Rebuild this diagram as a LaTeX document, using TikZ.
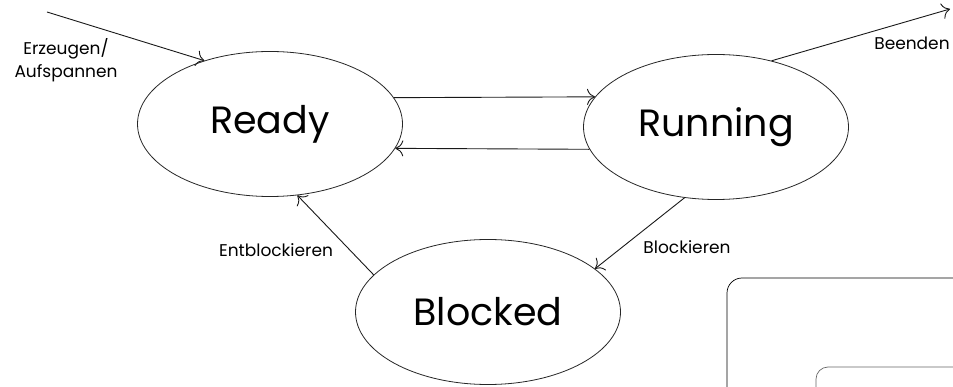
\documentclass[tikz,border=0pt]{standalone}
\usepackage{fontspec}
\setmainfont{Poppins}
\usetikzlibrary{shapes.geometric,arrows.meta}

\begin{document}
\begin{tikzpicture}[x=1pt,y=-1pt,
  state/.style={draw=black!85, line width=0.8pt, ellipse, inner sep=0pt,
    minimum width=265pt, minimum height=145pt,
    font=\fontsize{38}{40}\selectfont},
  trans/.style={-{To[length=8pt,width=16pt,line width=0.9pt]}, draw=black!90, line width=0.9pt},
  lbl/.style={font=\fontsize{17}{23}\selectfont, inner sep=0pt}]
\useasboundingbox (0,0) rectangle (953,387);
\clip (0,0) rectangle (953,387);

% states
\node[state] (ready)   at (270,124) {Ready};
\node[state] (running) at (716,127) {Running};
\node[state] (blocked) at (488,312) {Blocked};

% free ends
\coordinate (new) at (47,12);
\coordinate (exit) at (950,9);

% transitions
\draw[trans] (new) -- (ready.136);
\draw[trans] (running.50) -- (exit);
\draw[trans] (ready.12.5) -- (running.166);
\draw[trans] (running.-170) -- (ready.-11.5);
\draw[trans] (running.-114) -- (blocked.22);
\draw[trans] (blocked.162) -- (ready.-69);

% labels
\node[lbl, align=center] (lnew) at (66,60) {Erzeugen/\\Aufspannen};
\node[lbl] (lexit)  at (912,43)  {Beenden};
\node[lbl] (lunblk) at (276,250) {Entblockieren};
\node[lbl] (lblk)   at (687,247) {Blockieren};

% panel corners
\draw[black, line width=0.7pt, rounded corners=15pt] (727,400) -- (727,278) -- (970,278);
\draw[black!60, line width=0.7pt, rounded corners=12pt] (816,400) -- (816,367) -- (970,367);
\end{tikzpicture}
\end{document}
